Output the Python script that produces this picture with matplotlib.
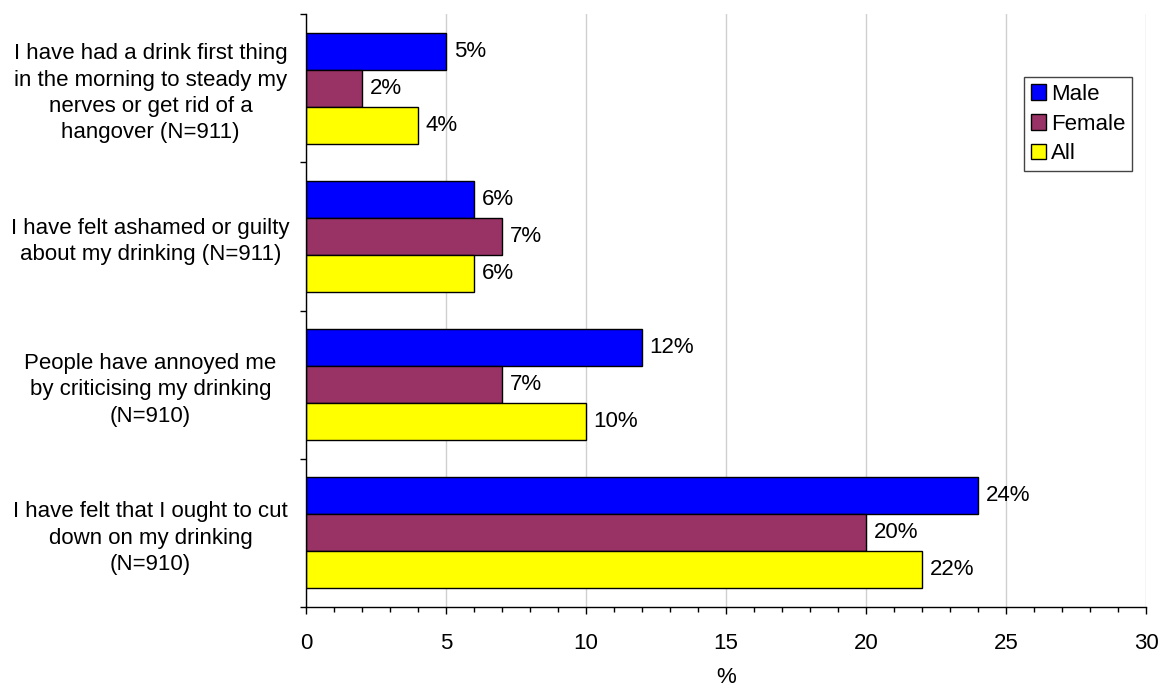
import matplotlib
matplotlib.use("Agg")
import matplotlib.pyplot as plt
import numpy as np
from matplotlib.ticker import MultipleLocator, FixedLocator

plt.rcParams['font.family'] = ['Liberation Sans', 'DejaVu Sans']

categories = [
    "I have had a drink first thing\nin the morning to steady my\nnerves or get rid of a\nhangover (N=911)",
    "I have felt ashamed or guilty\nabout my drinking (N=911)",
    "People have annoyed me\nby criticising my drinking\n(N=910)",
    "I have felt that I ought to cut\ndown on my drinking\n(N=910)",
]
series_names = ["Male", "Female", "All"]
male = [5, 6, 12, 24]
female = [2, 7, 7, 20]
all_people = [4, 6, 10, 22]
colors = ["#0000FF", "#993366", "#FFFF00"]

FS = 16

fig = plt.figure(figsize=(11.6, 6.9), dpi=100)
ax = fig.add_axes([306 / 1160, 1 - 607 / 690, 840 / 1160, 593 / 690])

y = np.arange(len(categories))
h = 0.25
for i, (vals, name, col) in enumerate(zip([male, female, all_people], series_names, colors)):
    bars = ax.barh(y + (i - 1) * h, vals, height=h, color=col, edgecolor="black",
                   linewidth=1.0, label=name, zorder=3)
    ax.bar_label(bars, labels=[f"{v}%" for v in vals], padding=5.5, fontsize=FS, zorder=4)

ax.set_xlim(0, 30)
ax.set_ylim(len(categories) - 0.5, -0.5)

ax.xaxis.set_major_locator(MultipleLocator(5))
ax.xaxis.set_minor_locator(MultipleLocator(1))
ax.tick_params(axis='x', which='major', direction='out', length=5, width=1,
               labelsize=FS, pad=14)
ax.tick_params(axis='x', which='minor', direction='out', length=3.5, width=1)
ax.grid(axis='x', which='major', color='#D0D0D0', linewidth=1.0, zorder=0)

# category labels centred at the major ticks, boundary ticks as minor ticks
ax.set_yticks(y)
ax.set_yticklabels(categories, fontsize=FS, ha='center', multialignment='center',
                   linespacing=1.33)
ax.yaxis.set_minor_locator(FixedLocator(np.arange(-0.5, len(categories), 1.0)))
ax.tick_params(axis='y', which='major', length=0, pad=112)
ax.tick_params(axis='y', which='minor', direction='out', length=4.5, width=1)

for s in ['top', 'right']:
    ax.spines[s].set_visible(False)
for s in ['left', 'bottom']:
    ax.spines[s].set_color('black')
    ax.spines[s].set_linewidth(1.0)
    ax.spines[s].set_zorder(5)

ax.set_xlabel("%", fontsize=FS, labelpad=9)

leg = ax.legend(loc='upper left', bbox_to_anchor=(1024 / 1160, 1 - 77 / 690),
                bbox_transform=fig.transFigure, fontsize=FS, frameon=True,
                fancybox=False, edgecolor='#444444', framealpha=1,
                handlelength=0.7, handleheight=0.7, handletextpad=0.2,
                labelspacing=0.4, borderpad=0.3, borderaxespad=0)
leg.get_frame().set_linewidth(1.0)

fig.savefig("out.png", dpi=100, facecolor="white")
